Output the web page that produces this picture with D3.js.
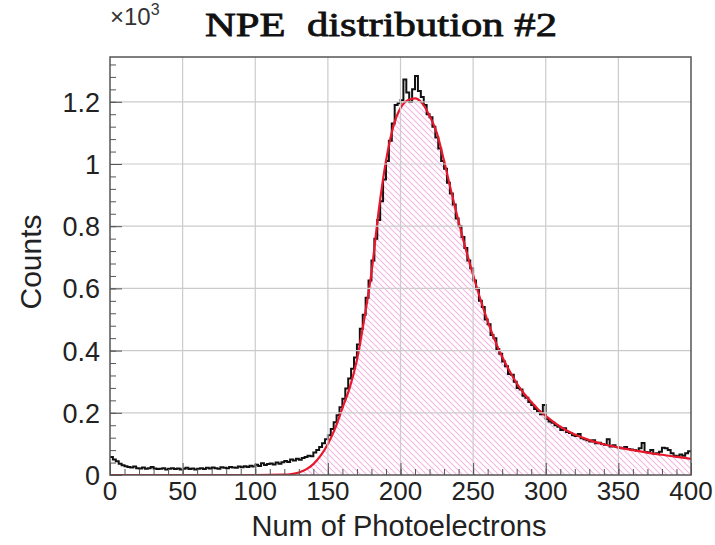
<!DOCTYPE html>
<html>
<head>
<meta charset="utf-8">
<script src="https://cdn.jsdelivr.net/npm/d3@7"></script>
<style>
    body { margin: 0; background: #fff; }
    svg { display: block; }
</style>
</head>
<body>
<div class="charts-div"></div>
<script>
// Histogram: 200 bins of width 2 from 0 to 400 (counts)
const binWidth = 2;
const binCounts = [
    58, 50, 44, 36, 31, 28, 26, 24, 27, 22,
    21, 24, 20, 22, 26, 21, 19, 20, 22, 18,
    20, 22, 19, 21, 18, 20, 23, 19, 21, 18,
    20, 22, 19, 23, 21, 24, 22, 20, 25, 23,
    22, 26, 24, 23, 27, 25, 28, 26, 30, 27,
    33, 29, 38, 32, 35, 37, 34, 40, 36, 41,
    45, 42, 50, 47, 52, 49, 55, 58, 62, 60,
    72, 80, 90, 102, 115, 128, 148, 170, 192, 218,
    245, 278, 310, 342, 378, 420, 470, 515, 570, 625,
    690, 760, 820, 880, 950, 1010, 1075, 1130, 1190, 1195,
    1205, 1272, 1230, 1200, 1240, 1283, 1235, 1215, 1190, 1160,
    1150, 1120, 1085, 1050, 1010, 985, 940, 905, 870, 825,
    800, 765, 730, 690, 665, 625, 600, 560, 540, 500,
    485, 450, 440, 405, 390, 365, 350, 325, 322, 300,
    280, 275, 255, 248, 235, 225, 212, 205, 195, 225,
    180, 172, 168, 160, 155, 145, 150, 138, 135, 128,
    125, 132, 118, 115, 112, 108, 112, 102, 104, 100,
    97, 115, 92, 96, 90, 88, 86, 90, 84, 82,
    80, 78, 86, 103, 74, 72, 80, 68, 70, 75,
    88, 86, 80, 70, 62, 60, 66, 62, 70, 76
];

// Fit curve, sampled from the red line
const fitX = [0, 50, 100, 120, 125, 130, 135, 140, 145, 150, 155, 160, 165, 170, 175, 180, 185, 190, 195,
    200, 205, 210, 215, 220, 225, 230, 235, 240, 245, 250, 255, 260, 265, 270, 275, 280, 285, 290, 295,
    300, 310, 320, 330, 340, 350, 360, 370, 380, 390, 400];
const fitY = [0, 0, 0, 1, 3, 8, 18, 35, 62, 100, 150, 215, 280, 370, 500, 650, 850, 1010, 1120,
    1180, 1205, 1211, 1195, 1155, 1100, 1010, 910, 815, 725, 643, 565, 495, 433, 380, 335, 295, 262, 235, 210,
    190, 155, 130, 112, 99, 89, 80, 72, 65, 58, 52];

const xTicks = [0, 50, 100, 150, 200, 250, 300, 350, 400];
const yTicks = [0, 200, 400, 600, 800, 1000, 1200];

const chartsConfig = {
    width: 715,
    height: 545,
    margins: { top: 57, right: 24, bottom: 70, left: 110 }
};

const { width, height, margins } = chartsConfig;

const svg = d3.select(".charts-div").append("svg").attr("width", width).attr("height", height);

const xScale = d3.scaleLinear().domain([0, 400]).range([margins.left, width - margins.right]);
const yScale = d3.scaleLinear().domain([0, 1344]).range([height - margins.bottom, margins.top]);

// hatch pattern for the fit area
const defs = svg.append("defs");
defs.append("pattern")
    .attr("id", "hatch")
    .attr("patternUnits", "userSpaceOnUse")
    .attr("width", 6)
    .attr("height", 6)
    .append("path")
    .attr("d", "M-1,-1 L7,7 M-1,5 L1,7 M5,-1 L7,1")
    .attr("stroke", "#f6b6e4")
    .attr("stroke-width", 1.1);

defs.append("clipPath").attr("id", "frame-clip")
    .append("rect")
    .attr("x", margins.left).attr("y", margins.top)
    .attr("width", width - margins.left - margins.right)
    .attr("height", height - margins.top - margins.bottom);

const fitPoints = fitX.map((x, i) => [x, fitY[i]]);
const plot = svg.append("g").attr("clip-path", "url(#frame-clip)");

// fit area (hatched)
plot.append("path")
    .datum(fitPoints)
    .attr("fill", "url(#hatch)")
    .attr("d", d3.area().curve(d3.curveMonotoneX)
        .x(d => xScale(d[0])).y0(yScale(0)).y1(d => yScale(d[1])));

// grid lines
const grid = svg.append("g").attr("class", "grid");
grid.selectAll(".vgrid").data(xTicks.slice(1, -1)).join("line")
    .attr("x1", d => xScale(d)).attr("x2", d => xScale(d))
    .attr("y1", margins.top).attr("y2", height - margins.bottom)
    .attr("stroke", "#cbcbcb").attr("stroke-width", 1.2);
grid.selectAll(".hgrid").data(yTicks.slice(1)).join("line")
    .attr("y1", d => yScale(d)).attr("y2", d => yScale(d))
    .attr("x1", margins.left).attr("x2", width - margins.right)
    .attr("stroke", "#cbcbcb").attr("stroke-width", 1.2);

// histogram step line
const histPoints = binCounts.map((c, i) => [i * binWidth, c]);
histPoints.push([400, binCounts[binCounts.length - 1]]);
plot.append("path")
    .datum(histPoints)
    .attr("fill", "none")
    .attr("stroke", "#111")
    .attr("stroke-width", 2)
    .attr("d", d3.line().curve(d3.curveStepAfter).x(d => xScale(d[0])).y(d => yScale(d[1])));

// fit curve
plot.append("path")
    .datum(fitPoints)
    .attr("fill", "none")
    .attr("stroke", "#e8182c")
    .attr("stroke-width", 2.2)
    .attr("d", d3.line().curve(d3.curveMonotoneX).x(d => xScale(d[0])).y(d => yScale(d[1])));

// axes, ROOT style ticks pointing inward
const xAxis = svg.append("g").attr("transform", `translate(0,${height - margins.bottom})`);
xAxis.call(d3.axisTop(xScale).tickValues(d3.range(0, 401, 10)).tickSize(6).tickFormat(""));
xAxis.call(g => g.append("g").call(d3.axisTop(xScale).tickValues(xTicks).tickSize(12).tickFormat("")));
xAxis.selectAll(".domain").remove();
xAxis.selectAll("line").attr("stroke", "#555");

const yAxis = svg.append("g").attr("transform", `translate(${margins.left},0)`);
yAxis.call(d3.axisRight(yScale).tickValues(d3.range(0, 1341, 40)).tickSize(6).tickFormat(""));
yAxis.call(g => g.append("g").call(d3.axisRight(yScale).tickValues(yTicks).tickSize(12).tickFormat("")));
yAxis.selectAll(".domain").remove();
yAxis.selectAll("line").attr("stroke", "#555");

// frame
svg.append("rect")
    .attr("x", margins.left).attr("y", margins.top)
    .attr("width", width - margins.left - margins.right)
    .attr("height", height - margins.top - margins.bottom)
    .attr("fill", "none").attr("stroke", "#555").attr("stroke-width", 1.5);

// tick labels
const labelFont = "Liberation Sans, Arial, sans-serif";
svg.append("g").selectAll("text").data(xTicks).join("text")
    .attr("x", d => xScale(d)).attr("y", height - margins.bottom + 25)
    .attr("text-anchor", "middle")
    .attr("font-family", labelFont).attr("font-size", 26).attr("fill", "#222")
    .text(d => d);

svg.append("g").selectAll("text").data(yTicks).join("text")
    .attr("x", margins.left - 10).attr("y", d => yScale(d) + 10)
    .attr("text-anchor", "end")
    .attr("font-family", labelFont).attr("font-size", 27).attr("fill", "#222")
    .text(d => d3.format("~g")(d / 1000));

// exponent label
const expo = svg.append("text").attr("x", margins.left).attr("y", 25)
    .attr("font-family", labelFont).attr("font-size", 24).attr("fill", "#333");
expo.append("tspan").text("×10");
expo.append("tspan").attr("dy", -10).attr("font-size", 16).text("3");

// axis titles
svg.append("text")
    .attr("x", 399).attr("y", 536)
    .attr("text-anchor", "middle")
    .attr("font-family", labelFont).attr("font-size", 29).attr("fill", "#222")
    .text("Num of Photoelectrons");

svg.append("text")
    .attr("transform", "translate(41,262) rotate(-90)")
    .attr("text-anchor", "middle")
    .attr("font-family", labelFont).attr("font-size", 30).attr("fill", "#222")
    .text("Counts");

// title
svg.append("text")
    .attr("x", 205).attr("y", 36)
    .attr("font-family", "Liberation Serif, Times New Roman, serif")
    .attr("font-size", 34).attr("fill", "#111")
    .attr("stroke", "#111").attr("stroke-width", 0.8)
    .attr("textLength", 352).attr("lengthAdjust", "spacingAndGlyphs")
    .attr("xml:space", "preserve")
    .text("NPE  distribution #2");
</script>
</body>
</html>
